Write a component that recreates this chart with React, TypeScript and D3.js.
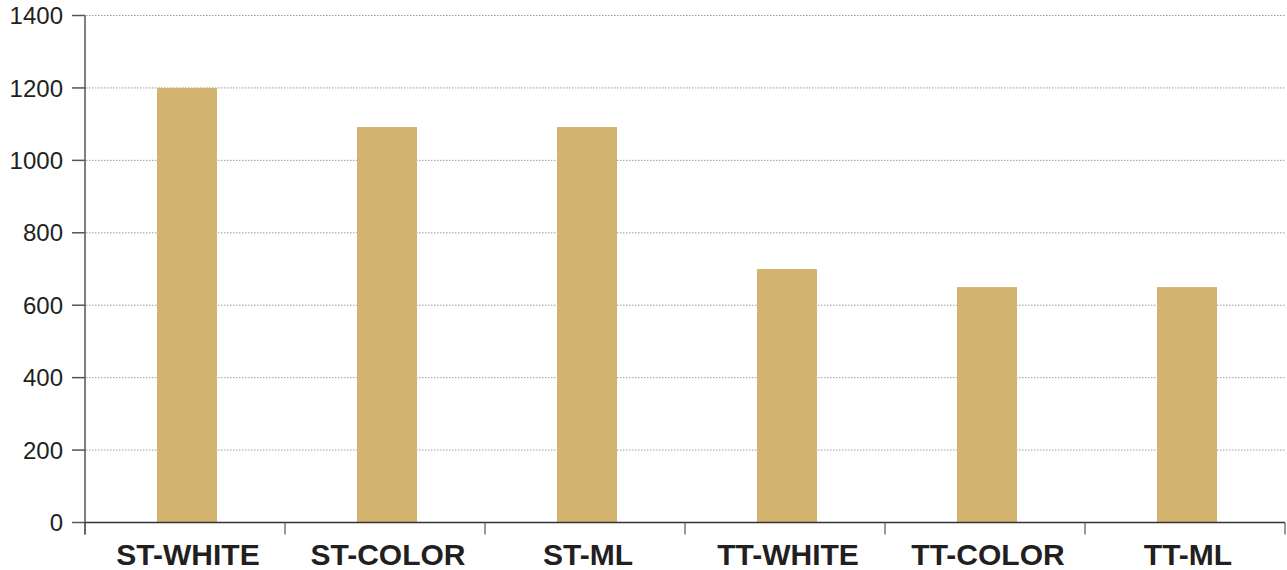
import React from "react";
import * as d3 from "d3";

const categories = ["ST-WHITE", "ST-COLOR", "ST-ML", "TT-WHITE", "TT-COLOR", "TT-ML"];
const values = [1200, 1092, 1092, 700, 650, 650];
const yTicks = [0, 200, 400, 600, 800, 1000, 1200, 1400];

const W = 1287;
const H = 570;
const left = 85;
const right = 1285;
const top = 15.5;
const bottom = 522.5;

export default function App() {
  const x = d3.scaleBand<string>().domain(categories).range([left, right]).paddingInner(0).paddingOuter(0);
  const y = d3.scaleLinear().domain([0, 1400]).range([bottom, top]);
  const barW = 60;
  const bounds = [...categories.map((c) => x(c) as number), right];

  return (
    <svg width={W} height={H} style={{ position: "absolute", left: 0, top: 0, background: "#fff" }}
      fontFamily="'Liberation Sans', Arial, sans-serif">
      {yTicks.filter((t) => t > 0).map((t) => (
        <line key={"g" + t} x1={left + 1} x2={right} y1={y(t)} y2={y(t)}
          stroke="#9a9a9a" strokeWidth={1} strokeDasharray="1.5 1.5" />
      ))}
      {categories.map((c, i) => (
        <rect key={c} x={(x(c) as number) + x.bandwidth() / 2 - barW / 2 + 2} y={y(values[i])}
          width={barW} height={y(0) - y(values[i])} fill="#d2b36f" />
      ))}
      {/* y axis */}
      <line x1={left} x2={left} y1={top} y2={bottom + 12} stroke="#555" strokeWidth={1.5} />
      {yTicks.map((t) => (
        <g key={"t" + t}>
          <line x1={left - 13} x2={left} y1={y(t)} y2={y(t)} stroke="#555" strokeWidth={1.5} />
          <text x={63} y={y(t)} dy="0.36em" textAnchor="end" fontSize={24} fill="#231f20">{t}</text>
        </g>
      ))}
      {/* x axis */}
      <line x1={left} x2={right} y1={bottom} y2={bottom} stroke="#333" strokeWidth={1.5} />
      {bounds.map((b, i) => (
        <line key={"xb" + i} x1={b} x2={b} y1={bottom} y2={bottom + 12} stroke="#555" strokeWidth={1.2} />
      ))}
      {categories.map((c) => (
        <text key={"l" + c} x={(x(c) as number) + x.bandwidth() / 2 + 3} y={565} textAnchor="middle"
          fontSize={30} fontWeight="bold" fill="#231f20">{c}</text>
      ))}
    </svg>
  );
}
